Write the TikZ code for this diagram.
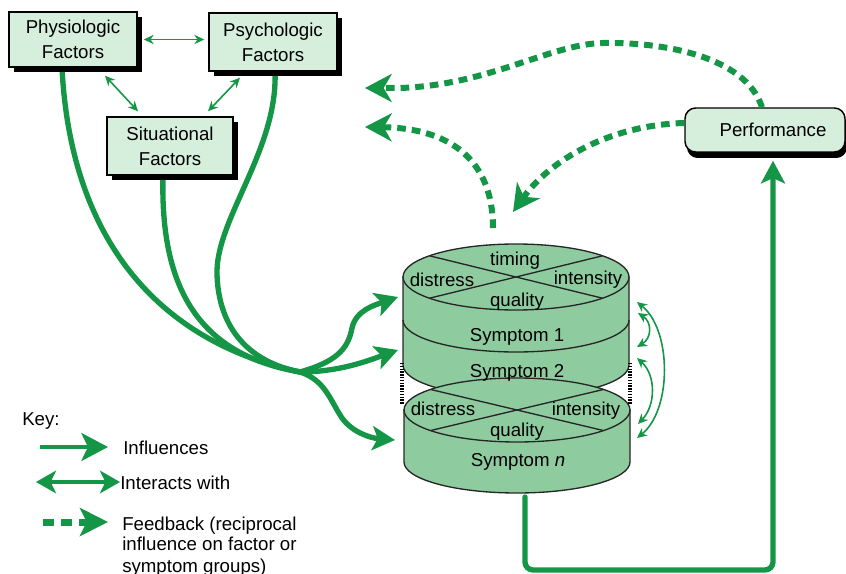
\documentclass[tikz,border=0pt]{standalone}
\usepackage{fontspec}
\setmainfont{Liberation Sans}
\usetikzlibrary{arrows.meta,shadows,calc,backgrounds}
\definecolor{gline}{RGB}{20,150,70}
\definecolor{boxfill}{RGB}{214,238,220}
\definecolor{symfill}{RGB}{142,204,160}
\begin{document}
\begin{tikzpicture}[x=0.75pt,y=0.75pt,
  font=\fontsize{14}{18.5}\selectfont,
  factor/.style={draw=black,line width=1.1pt,fill=boxfill,align=center,inner sep=2pt,
     drop shadow={shadow xshift=3.75pt,shadow yshift=-3.75pt,fill=black,opacity=1}},
  perfbox/.style={draw=black,line width=1.1pt,fill=boxfill,rounded corners=8pt,minimum width=120pt,minimum height=33pt,
     drop shadow={shadow xshift=1.5pt,shadow yshift=-4.5pt,fill=black,opacity=1}},
  infl/.style={draw=gline,line width=4pt,line cap=round,-{Stealth[length=17pt,width=18pt,inset=4pt]}},
  flow/.style={draw=gline,line width=4pt,line cap=round},
  fb/.style={draw=gline,line width=4.5pt,dash pattern=on 6.5pt off 4.5pt,-{Stealth[length=20pt,width=21pt,inset=6pt]}},
  inter/.style={draw=gline,line width=1.2pt,{Stealth[length=7.5pt,width=7pt]}-{Stealth[length=7.5pt,width=7pt]}},
  cyl/.style={draw=black!85,line width=1pt,fill=symfill},
  thinl/.style={draw=black!85,line width=1pt},
  hatch/.style={draw=black,line width=3.6pt,dash pattern=on 1.1pt off 1pt},
  lab/.style={inner sep=0pt},
  keytxt/.style={inner sep=0pt,anchor=base west}
]
\useasboundingbox (0,0) rectangle (846,-574);
\clip (0,0) rectangle (846,-574);

% factor boxes
\node[factor,minimum width=96pt,minimum height=41.25pt] (phys) at (73,-39.5) {Physiologic\\Factors};
\node[factor,minimum width=96pt,minimum height=43.5pt] (psych) at (273,-42) {Psychologic\\Factors};
\node[factor,minimum width=94.5pt,minimum height=43.5pt] (sit) at (170,-146) {Situational\\Factors};
\node[perfbox] (perf) at (765,-130) {\hspace*{12pt}Performance};

% interactions among factors
\draw[inter] ($(phys.east)+(6,0)$) -- ($(phys.east -| psych.west)+(-4,0)$);
\draw[inter] ($(phys.south)+(32,-8)$) -- ($(sit.north)+(-32,5)$);
\draw[inter] ($(psych.south)+(-33,-6)$) -- ($(sit.north)+(38,5)$);

% symptom stack: upper cylinder
\draw[cyl] (403,-277) -- (403,-365) arc[start angle=180,end angle=360,x radius=113,y radius=32] -- (629,-277) -- cycle;
\draw[thinl] (403,-320) arc[start angle=180,end angle=360,x radius=113,y radius=32];
\coordinate (e1) at (516,-277);
\draw[cyl] (e1) ellipse[x radius=113,y radius=33];
\draw[thinl] ($(e1)+(140:113 and 33)$) -- ($(e1)+(-40:113 and 33)$);
\draw[thinl] ($(e1)+(220:113 and 33)$) -- ($(e1)+(40:113 and 33)$);
% lower cylinder
\draw[cyl] (404,-410) -- (404,-462) arc[start angle=180,end angle=360,x radius=113,y radius=31] -- (630,-410) -- cycle;
\coordinate (e2) at (517,-410);
\draw[cyl] (e2) ellipse[x radius=113,y radius=32];
\draw[thinl] ($(e2)+(140:113 and 32)$) -- ($(e2)+(-40:113 and 32)$);
\draw[thinl] ($(e2)+(220:113 and 32)$) -- ($(e2)+(40:113 and 32)$);
% omitted symptoms marks
\draw[hatch] (402,-363) -- (402,-404);
\draw[hatch] (630,-363) -- (630,-404);

% stack labels
\node[lab] (t1) at (515,-261) {timing};
\node[lab] (d1) at (442,-280) {distress};
\node[lab] (i1) at (588,-280) {intensity};
\node[lab] (q1) at (517,-302) {quality};
\node[lab] (s1) at (517,-337) {Symptom 1};
\node[lab] (s2) at (517,-373) {Symptom 2};
\node[lab] (d2) at (443,-409) {distress};
\node[lab] (i2) at (586,-411) {intensity};
\node[lab] (q2) at (517,-432) {quality};
\node[lab] (sn) at (518,-462) {Symptom \textit{n}};

% connector endpoints on the stack
\coordinate (merge) at (300,-372);
\coordinate (stk1) at (398,-297);
\coordinate (stk2) at (398,-350);
\coordinate (stk3) at (395,-440);
\coordinate (stkb) at (525,-497);
\coordinate (stktop) at (493,-228);
\coordinate (fbtip1) at (365,-88);
\coordinate (fbtip2) at (513,-212);
\coordinate (fbtip3) at (365,-127);

% interactions among symptoms
\coordinate (ia1) at (637,-302);
\coordinate (ia2) at (637,-438);
\coordinate (ib1) at (638,-313);
\coordinate (ib2) at (637,-347);
\coordinate (ic1) at (637,-358);
\coordinate (ic2) at (638,-424);
\draw[inter] (ia1) .. controls (672,-330) and (672,-410) .. (ia2);
\draw[inter] (ib1) .. controls (652,-322) and (652,-338) .. (ib2);
\draw[inter] (ic1) .. controls (656,-375) and (656,-405) .. (ic2);

% influences
\begin{scope}[on background layer]
\draw[flow] ($(phys.south)+(-11,0)$) .. controls (70,-230) and (150,-340) .. (merge);
\draw[flow] ($(sit.south)+(-7,0)$) .. controls (160,-290) and (200,-355) .. (merge);
\draw[flow] ($(psych.south)+(2,0)$) .. controls (278,-150) and (215,-220) .. (217,-275) .. controls (219,-330) and (250,-362) .. (merge);
\end{scope}
\draw[infl] (merge) .. controls (335,-362) and (348,-350) .. (352,-328) .. controls (356,-310) and (375,-305) .. (stk1);
\draw[infl] (merge) .. controls (340,-372) and (370,-360) .. (stk2);
\draw[infl] (merge) .. controls (325,-380) and (330,-400) .. (342,-418) .. controls (352,-432) and (370,-438) .. (stk3);

% symptoms -> performance
\draw[infl,rounded corners=6pt] (stkb) -- (525,-570) -| ($(perf.south)+(8,-8)$);

% feedback
\draw[fb] ($(perf.north)+(-3,0)$) .. controls (745,-55) and (660,-42) .. (603,-43) .. controls (550,-44) and (490,-85) .. (400,-88) -- (fbtip1);
\draw[fb] ($(perf.west)+(0,7)$) .. controls (610,-125) and (550,-160) .. (fbtip2);
\draw[fb] (stktop) .. controls (493,-160) and (450,-128) .. (fbtip3);

% key
\node[keytxt] (key) at (22,-425) {Key:};
\coordinate (k1a) at (40,-447);
\coordinate (k1b) at (108,-447);
\coordinate (k2a) at (36,-482);
\coordinate (k2b) at (120,-482);
\coordinate (k3a) at (43,-522);
\coordinate (k3b) at (108,-522);
\draw[draw=gline,line width=3pt,-{Stealth[length=20pt,width=21pt,inset=5pt]}] (k1a) -- (k1b);
\draw[draw=gline,line width=2.6pt,{Stealth[length=15pt,width=17pt,inset=4pt]}-{Stealth[length=15pt,width=17pt,inset=4pt]}] (k2a) -- (k2b);
\draw[draw=gline,line width=5.25pt,dash pattern=on 8.25pt off 5.25pt,-{Stealth[length=21pt,width=21pt,inset=5pt]}] (k3a) -- (k3b);
\node[keytxt] (kt1) at (123,-454) {Influences};
\node[keytxt] (kt2) at (120,-489) {Interacts with};
\node[keytxt] (kt3) at (122,-530) {Feedback (reciprocal};
\node[keytxt] (kt4) at (122,-550.5) {influence on factor or};
\node[keytxt] (kt5) at (122,-572) {symptom groups)};
\end{tikzpicture}
\end{document}
